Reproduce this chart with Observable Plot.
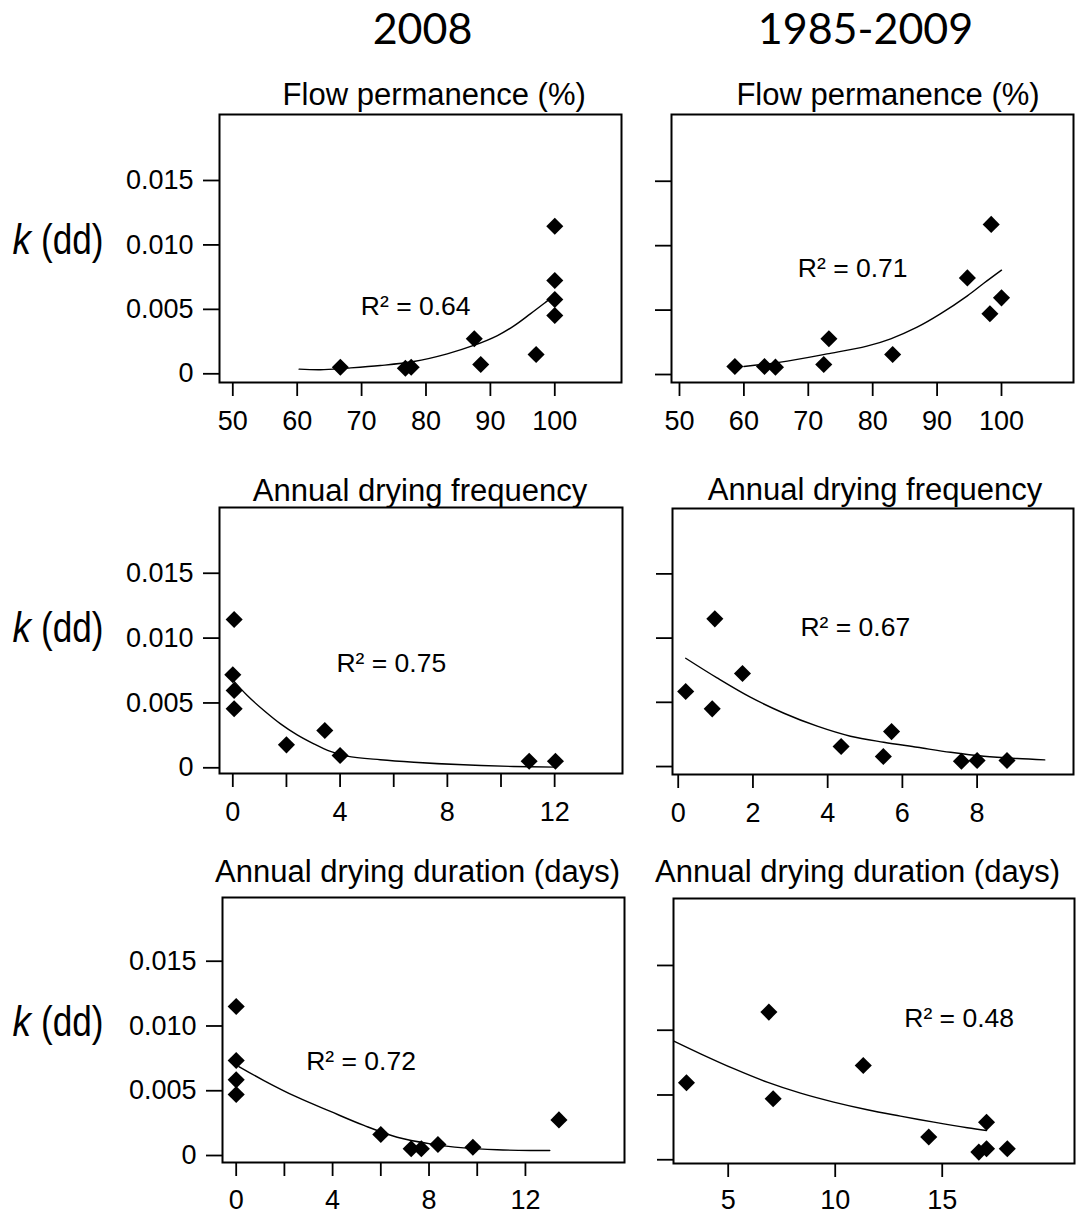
<!DOCTYPE html>
<html><head><meta charset="utf-8">
<script src="https://cdn.jsdelivr.net/npm/d3@7"></script>
<script src="https://cdn.jsdelivr.net/npm/@observablehq/plot@0.6"></script>
<style>
html,body{margin:0;padding:0;background:#fff;}
#chart{position:relative;width:1076px;height:1214px;overflow:hidden;background:#fff;}
#chart svg{position:absolute;}
</style></head><body><div id="chart"></div>
<script>
// ---------------- data ----------------
const columnTitles = ["2008", "1985-2009"];
const panelTitles = ["Flow permanence (%)", "Annual drying frequency", "Annual drying duration (days)"];
const r2Labels = ["R\u00b2 = 0.64", "R\u00b2 = 0.71", "R\u00b2 = 0.75", "R\u00b2 = 0.67", "R\u00b2 = 0.72", "R\u00b2 = 0.48"];
const yAxisLabelItalic = "k";
const yAxisLabelRest = "(dd)";

const yTicks = [0, 0.005, 0.010, 0.015];
const yTickLabels = ["0", "0.005", "0.010", "0.015"];

const flowTicks = [50, 60, 70, 80, 90, 100];
const flowTickLabels = ["50", "60", "70", "80", "90", "100"];
const freq2008Ticks = [0, 2, 4, 6, 8, 10, 12];
const freq2008TickLabels = ["0", "", "4", "", "8", "", "12"];
const freqLongTicks = [0, 2, 4, 6, 8];
const freqLongTickLabels = ["0", "2", "4", "6", "8"];
const dur2008Ticks = [0, 2, 4, 6, 8, 10, 12];
const dur2008TickLabels = ["0", "", "4", "", "8", "", "12"];
const durLongTicks = [5, 10, 15];
const durLongTickLabels = ["5", "10", "15"];

// Flow permanence, 2008
const flow2008X = [66.7, 76.8, 77.7, 87.5, 88.5, 97.1, 100, 100, 100, 100];
const flow2008K = [0.00051, 0.00043, 0.00051, 0.00272, 0.00072, 0.0015, 0.01145, 0.00724, 0.00577, 0.00452];
const flow2008FitX = [60.3, 63.6, 67.8, 72.9, 78.1, 83.3, 87.4, 91.1, 93.6, 96.2, 98.6, 100];
const flow2008FitK = [0.00036, 0.00031, 0.00044, 0.00064, 0.00095, 0.00155, 0.0022, 0.00297, 0.0037, 0.00465, 0.00556, 0.0061];

// Flow permanence, 1985-2009
const flowLongX = [58.6, 63.2, 64.9, 72.4, 73.2, 83.1, 94.7, 98.4, 98.2, 100];
const flowLongK = [0.00062, 0.00062, 0.00057, 0.00078, 0.00277, 0.00155, 0.0075, 0.01165, 0.00471, 0.00595];
const flowLongFitX = [60, 65.7, 72.9, 79.1, 82.8, 86.9, 90.5, 94.7, 97.3, 100];
const flowLongFitK = [0.00062, 0.00096, 0.0016, 0.0022, 0.00277, 0.00367, 0.0047, 0.0061, 0.0071, 0.0081];

// Annual drying frequency, 2008
const freq2008X = [0.05, 0, 0.05, 0.05, 2, 3.43, 4, 11.05, 12.03];
const freq2008K = [0.01143, 0.00717, 0.00596, 0.00455, 0.00177, 0.00288, 0.00095, 0.00051, 0.00051];
const freq2008FitX = [0.04, 0.54, 1.16, 1.78, 2.4, 3.02, 3.64, 4.26, 5.5, 6.75, 8.6, 10.47, 12.03];
const freq2008FitK = [0.00668, 0.00557, 0.00442, 0.00339, 0.00254, 0.00185, 0.00126, 0.0009, 0.00062, 0.00043, 0.00023, 0.0001, 0.00005];

// Annual drying frequency, 1985-2009
const freqLongX = [0.2, 0.91, 0.98, 1.72, 4.36, 5.49, 5.71, 7.58, 8.0, 8.8];
const freqLongK = [0.00584, 0.00449, 0.0115, 0.00724, 0.00156, 0.00078, 0.00272, 0.00041, 0.00047, 0.00047];
const freqLongFitX = [0.2, 1.04, 1.93, 2.83, 3.72, 4.61, 5.5, 6.4, 7.29, 8.18, 9.07, 9.81];
const freqLongFitK = [0.00843, 0.0069, 0.0054, 0.00415, 0.00314, 0.00236, 0.00189, 0.0015, 0.00111, 0.0008, 0.00062, 0.00052];

// Annual drying duration, 2008
const dur2008X = [0, 0, 0, 0, 6.0, 7.26, 7.68, 8.37, 9.82, 13.39];
const dur2008K = [0.0115, 0.00733, 0.00584, 0.00471, 0.00162, 0.00052, 0.00052, 0.00085, 0.00064, 0.00275];
const dur2008FitX = [0.11, 1.15, 2.53, 3.91, 5.3, 6.68, 8.06, 9.44, 10.83, 12.21, 13.01];
const dur2008FitK = [0.00687, 0.00579, 0.0045, 0.0034, 0.00232, 0.00141, 0.0009, 0.00059, 0.00044, 0.00039, 0.00039];

// Annual drying duration, 1985-2009
const durLongX = [3.05, 6.9, 7.1, 11.31, 14.37, 17.07, 16.71, 17.07, 18.04];
const durLongK = [0.00594, 0.0114, 0.00471, 0.00728, 0.00175, 0.0029, 0.00059, 0.00085, 0.00085];
const durLongFitX = [2.46, 3.71, 5.26, 6.82, 8.38, 9.93, 11.5, 13.05, 14.61, 16.17, 17.07];
const durLongFitK = [0.00916, 0.00818, 0.00703, 0.00599, 0.00514, 0.00445, 0.00386, 0.00337, 0.0029, 0.00247, 0.00226];

// R² label anchors (data units)
const r2AnchorX = [78.4, 76.9, 5.91, 4.74, 5.18, 15.79];
const r2AnchorK = [0.00525, 0.0082, 0.00806, 0.01085, 0.00728, 0.01089];

// ---------------- layout ----------------
const svgBoxes = { cols: [[0, 646], [646, 1076]], rows: [[0, 450], [450, 840], [840, 1214]] };
const panels = [
  {row:0,col:0, frame:[219,621,114,382], xd:[47.935,110.36], yd:[-0.000675,0.02012], xs:flow2008X, ks:flow2008K, fx:flow2008FitX, fk:flow2008FitK, ticks:flowTicks, labels:flowTickLabels, tdx:13.7, tbase:104, cbase:43.3, cx:422, xpad:14},
  {row:0,col:1, frame:[671,1073,114,382], xd:[48.76,111.18], yd:[-0.00062,0.02018], xs:flowLongX, ks:flowLongK, fx:flowLongFitX, fk:flowLongFitK, ticks:flowTicks, labels:flowTickLabels, tdx:15.5, tbase:104, cbase:43.3, cx:865, xpad:14},
  {row:1,col:0, frame:[219,622,507,773], xd:[-0.496,14.53], yd:[-0.00044,0.02007], xs:freq2008X, ks:freq2008K, fx:freq2008FitX, fk:freq2008FitK, ticks:freq2008Ticks, labels:freq2008TickLabels, tdx:-1, tbase:500, xpad:14},
  {row:1,col:1, frame:[672,1073,508,774], xd:[-0.153,10.58], yd:[-0.00062,0.02009], xs:freqLongX, ks:freqLongK, fx:freqLongFitX, fk:freqLongFitK, ticks:freqLongTicks, labels:freqLongTickLabels, tdx:2, tbase:499.5, xpad:14},
  {row:2,col:0, frame:[222,624,897,1162], xd:[-0.568,16.11], yd:[-0.00054,0.01992], xs:dur2008X, ks:dur2008K, fx:dur2008FitX, fk:dur2008FitK, ticks:dur2008Ticks, labels:dur2008TickLabels, tdx:-6, tbase:881.7, xpad:13},
  {row:2,col:1, frame:[673,1074,898,1163], xd:[2.444,21.18], yd:[-0.00029,0.02017], xs:durLongX, ks:durLongK, fx:durLongFitX, fk:durLongFitK, ticks:durLongTicks, labels:durLongTickLabels, tdx:-16.5, tbase:881.7, xpad:12}
];
const kLabelBase = [253.3, 641.7, 1035];

const chart = document.getElementById("chart");
const FONT = "'Liberation Sans', Arial, Helvetica, sans-serif";

panels.forEach((p, i) => {
  const [sx0, sx1] = svgBoxes.cols[p.col];
  const [sy0, sy1] = svgBoxes.rows[p.row];
  const [fl, fr, ft, fb] = p.frame;
  const pts = p.xs.map((x, j) => ({x, k: p.ks[j]}));
  const fit = p.fx.map((x, j) => ({x, k: p.fk[j]}));
  const marks = [
    Plot.axisX({ticks: p.ticks, tickFormat: d => p.labels[p.ticks.indexOf(d)], tickSize: 14, tickPadding: p.xpad, fontSize: 27, strokeWidth: 1.8, label: null}),
    Plot.axisY({ticks: yTicks, tickFormat: d => p.col === 0 ? yTickLabels[yTicks.indexOf(d)] : "", tickSize: 16, tickPadding: 10, fontSize: 27, strokeWidth: 1.8, label: null}),
    Plot.frame({stroke: "black", strokeWidth: 2}),
    Plot.line(fit, {x: "x", y: "k", curve: "catmull-rom", stroke: "black", strokeWidth: 1.4}),
    Plot.dot(pts, {x: "x", y: "k", symbol: "diamond2", r: 7.7, fill: "black", stroke: "none"}),
    Plot.text([{x: r2AnchorX[i], k: r2AnchorK[i], t: r2Labels[i]}], {x: "x", y: "k", text: "t", fontSize: 26.5, fill: "black", textAnchor: "middle", lineAnchor: "middle"}),
    Plot.text([panelTitles[p.row]], {frameAnchor: "top", dx: p.tdx, dy: p.tbase - ft, lineAnchor: "bottom", fontSize: 31, fill: "black"})
  ];
  if (p.row === 0) {
    marks.push(Plot.text([columnTitles[p.col]], {frameAnchor: "top", dx: p.cx - (fl + fr) / 2, dy: p.cbase - ft, lineAnchor: "bottom", fontSize: 43, fontFamily: "Lato, 'Open Sans', sans-serif", fill: "black"}));
  }
  if (p.col === 0) {
    marks.push(Plot.text([yAxisLabelItalic], {frameAnchor: "top-left", dx: 12 - fl, dy: kLabelBase[p.row] - ft, lineAnchor: "bottom", textAnchor: "start", fontSize: 43, fontStyle: "italic", fill: "black"}));
    marks.push(Plot.text([yAxisLabelRest], {frameAnchor: "top-left", dx: 40.5 - fl, dy: kLabelBase[p.row] - ft, lineAnchor: "bottom", textAnchor: "start", fontSize: 43, fill: "black"}));
  }
  const svg = Plot.plot({
    width: sx1 - sx0,
    height: sy1 - sy0,
    marginLeft: fl - sx0,
    marginRight: sx1 - fr,
    marginTop: ft - sy0,
    marginBottom: sy1 - fb,
    x: {domain: p.xd},
    y: {domain: p.yd},
    style: {fontFamily: FONT, fontSize: "26px", background: "transparent", color: "black", overflow: "visible"},
    marks
  });
  svg.style.left = sx0 + "px";
  svg.style.top = sy0 + "px";
  // condense the y-axis label to the reference's narrow lettering
  svg.querySelectorAll("text").forEach(t => {
    if (t.textContent === yAxisLabelItalic) { t.setAttribute("textLength", 18.5); t.setAttribute("lengthAdjust", "spacingAndGlyphs"); }
    if (t.textContent === yAxisLabelRest) { t.setAttribute("textLength", 62.5); t.setAttribute("lengthAdjust", "spacingAndGlyphs"); }
  });
  chart.appendChild(svg);
});
</script></body></html>
